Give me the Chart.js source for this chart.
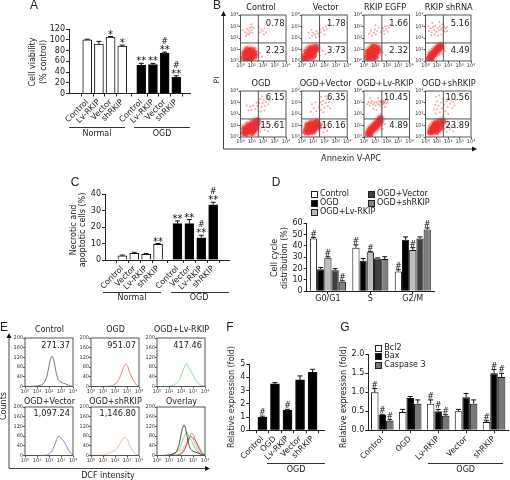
<!DOCTYPE html>
<html>
<head>
<meta charset="utf-8">
<script src="https://cdn.jsdelivr.net/npm/chart.js@4"></script>
<style>
  html, body { margin: 0; background: #fff; }
  #page { position: relative; width: 510px; height: 480px; overflow: hidden; font-family: "DejaVu Sans", sans-serif; color: #222; filter: blur(0.3px); }
  #page canvas { position: absolute; left: 0; top: 0; }
  .note { position: absolute; white-space: nowrap; line-height: 1; }
  .rule { position: absolute; height: 1px; background: #333; }
  .swatch { position: absolute; width: 5px; height: 5px; border: 1px solid #222; }
</style>
</head>
<body>
<div id="page">
  <svg width="510" height="480" style="position:absolute;left:0;top:0">
    <g stroke="#444" stroke-width="1" fill="none">
      <path d="M223.5 15V149H473"/>
      <path d="M9 337V468.5H206"/>
    </g>
    <g fill="#111">
      <path d="M223.5 11l-2.5 5h5z"/><path d="M477 149l-5 -2.5v5z"/>
      <path d="M9 333l-2.5 5h5z"/><path d="M210 468.5l-5 -2.5v5z"/>
    </g>
  </svg>
</div>
<script>
// panel A
const aLabels = ['Control', 'Lv-RKIP', 'Vector', 'shRKIP', 'Control', 'Lv-RKIP', 'Vector', 'shRKIP'];
const aValues = [100, 92, 105, 88, 53, 54, 75, 30];
const aErrors = [1, 5, 1, 2, 3, 2, 2, 3];
const aMarks = ['', '', '*', '*', '**', '**', ['**', '#'], ['**', '#']];

// panel C
const cLabels = ['Control', 'Vector', 'Lv-RKIP', 'shRKIP', 'Control', 'Vector', 'Lv-RKIP', 'shRKIP'];
const cValues = [2.5, 4, 3.5, 9.5, 22, 22, 13.5, 33.5];
const cErrors = [0.5, 0.7, 0.5, 0.5, 1.7, 2.5, 1.5, 1.5];
const cMarks = ['', '', '', '**', '**', '**', ['**', '#'], ['**', '#']];

// panel D
const dLabels = ['G0/G1', 'S', 'G2/M'];
const dSeries = ['Control', 'OGD', 'OGD+Lv-RKIP', 'OGD+Vector', 'OGD+shRKIP'];
const dColors = ['#ffffff', '#000000', '#bdbdbd', '#3f3f3f', '#808080'];
const dControl = [46.5, 38.5, 17.5];
const dOgd = [19.5, 27, 45.5];
const dLv = [29.5, 34.5, 36.5];
const dVector = [18.5, 29, 46.5];
const dSh = [8.5, 28.5, 54.5];
const dControlErr = [1, 2.5, 1.5];
const dOgdErr = [1.5, 2, 2.5];
const dLvErr = [1, 0.5, 2];
const dVectorErr = [1.5, 0.5, 1.5];
const dShErr = [0.8, 2, 1.5];
const dControlMarks = ['#', '#', '#'];
const dLvMarks = ['#', '#', '#'];
const dShMarks = ['#', '', '#'];

// panel F
const fLabels = ['Control', 'OGD', 'Lv-RKIP', 'Vector', 'shRKIP'];
const fValues = [1, 3.5, 1.5, 3.8, 4.4];
const fErrors = [0.07, 0.1, 0.08, 0.3, 0.2];
const fMarks = ['#', '', '#', '', ''];

// panel G
const gLabels = ['Control', 'OGD', 'Lv-RKIP', 'Vector', 'shRKIP'];
const gSeries = ['Bcl2', 'Bax', 'Caspase 3'];
const gColors = ['#ffffff', '#000000', '#777777'];
const gBcl2 = [1.0, 0.48, 0.7, 0.5, 0.22];
const gBax = [0.4, 0.85, 0.5, 0.87, 1.5];
const gCasp = [0.25, 0.7, 0.38, 0.7, 1.4];
const gBcl2Err = [0.1, 0.07, 0.1, 0.05, 0.03];
const gBaxErr = [0.02, 0.04, 0.05, 0.1, 0.1];
const gCaspErr = [0.03, 0.1, 0.03, 0.1, 0.1];
const gMarks = ['#', '', '#', '', '#'];

// panel B, events read as log10 decades [Annexin, PI]
const decadeLabels = ['10⁰', '10¹', '10²', '10³', '10⁴'];
const controlCore = [[.3,.3],[.45,.55],[.5,.2],[.55,.8],[.65,.4],[.7,.65],[.75,.15],[.8,.9],[.85,.5],[.95,.7],[1,.3],[1.05,.95],[1.1,.55],[1.2,.75],[.35,.7],[.6,1],[.9,.25],[1.25,.45]];
const controlSparse = [[.1,.1],[.15,.6],[.2,.9],[.3,1.1],[.25,.05],[.55,1.25],[.9,1.2],[1.3,1.1],[1.45,.8],[1.5,.5],[1.35,.2],[1.7,.7],[1.9,.4],[.4,2.5],[.55,2.8],[.6,2.4],[.7,2.65],[.8,2.9],[.85,2.5],[.95,2.7],[1.05,2.45],[1.15,2.85],[.5,2.2],[.75,2.3],[1,2.95],[1.7,2.5],[1.8,2.75],[1.95,2.6],[2.1,2.85],[2.25,2.5],[2.05,2.3],[1.6,2.95],[.2,2.7],[.95,3.2]];
const vectorCore = [[.2,.15],[.35,.2],[.3,.45],[.5,.35],[.55,.6],[.45,.8],[.7,.5],[.75,.75],[.65,1],[.9,.65],[.95,.9],[.85,1.15],[1.1,.8],[1.15,1.05],[1.05,.45],[1.3,1],[1.25,1.25],[.8,.3]];
const vectorSparse = [[.1,.5],[.15,.85],[.25,1],[.4,1.2],[.6,1.35],[1,1.4],[1.45,1.35],[1.5,.8],[1.55,1.15],[1.3,.5],[1.6,.45],[1.85,.9],[2.1,.6],[1.1,.15],[.7,2],[.9,2.2],[1,2.45],[1.15,2.3],[1.3,2.6],[1.45,2.4],[1.6,2.75],[1.7,2.5],[1.85,2.85],[1.95,2.65],[2.1,3],[2.2,2.75],[2.35,3.1],[.85,2.7],[1.25,2.05],[1.55,2.15],[2,2.3],[.6,2.45]];
const egfpCore = [[.25,.3],[.4,.55],[.45,.2],[.5,.85],[.6,.45],[.7,.7],[.65,1.05],[.8,.25],[.85,.55],[.9,.9],[.95,1.2],[1.05,.65],[1.1,.95],[1,.35],[1.25,.85],[1.2,1.15],[.35,.8],[.8,1.25]];
const egfpSparse = [[.1,.15],[.15,.55],[.2,.95],[.35,1.1],[.55,1.3],[1.05,1.4],[1.35,1.35],[1.45,.55],[1.5,1.05],[1.3,.3],[1.65,.75],[1.9,.5],[.7,2.2],[.85,2.45],[.95,2.75],[1.05,2.3],[1.15,2.6],[.6,2.65],[1.5,2.5],[1.65,2.85],[1.75,2.6],[1.85,3],[1.95,2.75],[2.05,3.05],[2.2,2.9],[2.3,3.15],[1.8,2.35],[1.3,2.9],[.45,2.4],[1,3.1],[2.1,2.55]];
const shrnaCore = [[.3,.2],[.4,.4],[.5,.25],[.55,.6],[.65,.45],[.7,.75],[.8,.6],[.85,.9],[.95,.8],[1,1.05],[1.1,.95],[1.15,1.2],[1.25,1.1],[1.3,1.35],[1.4,1.25],[.45,.1]];
const shrnaSparse = [[.15,.1],[.2,.45],[.25,.7],[.4,.85],[.55,1.05],[.75,1.2],[.95,1.4],[1.2,.55],[1.35,.8],[1.5,.6],[1.6,1.05],[1.55,1.5],[1.45,1.55],[1.7,.85],[.3,2.6],[.45,2.85],[.55,2.5],[.65,2.95],[.75,2.7],[.85,3.05],[.95,2.55],[1.05,2.85],[1.15,2.65],[1.25,3],[1.35,2.75],[1.45,2.9],[1.55,2.65],[1.65,3],[1.75,2.8],[1.85,2.95],[1.7,2.55],[.5,2.25],[.8,2.3],[1.1,2.2],[1.4,2.3],[.6,3.3],[1.2,3.4],[1.9,2.6],[.25,3],[1.5,3.2]];
const ogdCore = [[.3,.35],[.45,.6],[.5,.3],[.6,.85],[.7,.5],[.8,.75],[.75,1.05],[.9,.55],[.95,.95],[1.05,.75],[1.05,1.2],[1.15,.55],[1.2,1],[1.3,1.3],[1.35,.8],[1.45,1.1],[.35,.75],[1,.35],[1.5,1.45],[1.25,.7]];
const ogdSparse = [[.1,.3],[.15,.7],[.2,1],[.4,1.15],[.55,1.3],[.85,1.45],[1.1,1.55],[1.6,.7],[1.7,1.2],[1.75,.45],[1.9,.85],[2,1.1],[2.1,.6],[2.25,.9],[2.4,.5],[2.55,1],[1.6,.2],[.6,.1],[.7,2.3],[.85,2.6],[.95,2.35],[1.1,2.75],[.55,2.75],[1.3,2.45],[1.5,2.7],[1.65,2.95],[1.75,3.3],[1.85,2.6],[1.95,2.95],[2.05,3.2],[2.15,2.7],[2.25,3.05],[2.35,3.35],[2.45,2.85],[1.8,2.2],[2.1,2.3],[1.6,2.3],[2.55,3.15],[1.9,3.55],[1.4,3]];
const ogdVectorCore = [[.35,.45],[.45,.7],[.55,.4],[.6,.85],[.7,.6],[.75,1],[.85,.7],[.9,.45],[.95,1.1],[1,.85],[1.1,.6],[1.15,1],[1.2,1.25],[1.3,.8],[1.4,1.1],[.5,1.05],[.8,1.2],[1.5,.95],[1.35,1.3]];
const ogdVectorSparse = [[.15,.4],[.2,.75],[.3,.95],[.25,.2],[.5,1.25],[.9,1.4],[1.15,.3],[1.55,.55],[1.6,1.25],[1.7,.8],[1.8,1.1],[1.9,.4],[2,.75],[2.1,1],[2.25,.55],[2.4,.85],[.8,2.2],[1.05,2.5],[1.3,2.25],[1.5,2.6],[1.7,2.35],[1.8,2.8],[1.9,3.15],[2,2.55],[2.1,2.95],[2.2,3.3],[2.3,2.7],[2.4,3.05],[1.65,3],[1.9,2.15],[2.5,2.5],[.9,2.85],[1.2,3],[1.7,3.5],[2.1,3.55]];
const lvCore = [[.35,.3],[.45,.5],[.55,.35],[.6,.7],[.7,.55],[.75,.85],[.85,.7],[.9,1],[1,.85],[1.05,1.15],[1.15,1],[1.2,1.3],[1.3,1.15],[1.35,1.5],[.5,.15],[1.45,1.35],[1.45,1.65]];
const lvSparse = [[.15,.15],[.2,.4],[.3,.7],[.4,.9],[.6,1.05],[.8,1.25],[1,1.4],[1.2,.6],[1.35,.8],[1.5,1],[1.65,.7],[1.6,1.3],[1.8,1.1],[1.55,1.7],[1.5,2],[1.55,2.3],[1.6,2.5],[1.45,2.65],[.3,2.85],[.4,3.05],[.5,2.75],[.6,2.95],[.7,3.1],[.8,2.85],[.9,3],[1,2.75],[1.1,3.05],[1.2,2.9],[1.3,3.1],[1.35,2.8],[1.9,3.2],[2,2.95],[1.85,2.6],[2.1,3.1],[1.25,3.4],[.85,2.45],[1.1,2.35],[.55,3.4],[1.5,3],[1.6,3.1],[1.7,2.9],[1.65,3],[1.55,2.9],[1.75,3.05],[1.45,3.05],[1.8,2.95],[1.6,2.8],[1.7,3.15],[1.5,3.15],[1.85,3.05]];
const shCore = [[.4,.4],[.5,.65],[.6,.45],[.65,.85],[.75,.6],[.8,1],[.9,.75],[.95,.45],[1,1.1],[1.05,.85],[1.15,.6],[1.2,1.05],[1.25,1.35],[1.35,.85],[1.4,1.15],[1.55,1.4],[.85,1.2]];
const shSparse = [[.2,.3],[.25,.65],[.3,.95],[.45,1.1],[.6,1.25],[1,1.45],[1.1,.25],[1.5,.6],[1.6,1],[1.7,.75],[1.75,1.25],[1.85,.45],[1.95,.9],[2.05,1.15],[2.15,.65],[2.3,.95],[2.45,.5],[2.6,.85],[1.3,1.6],[.9,2.05],[1,2.4],[.85,2.8],[1,3.1],[.9,3.5],[1.15,2.7],[1.25,2.15],[1.35,3],[1.45,2.5],[1.55,3.3],[1.65,2.8],[1.75,2.25],[1.85,3.1],[1.95,2.6],[2.05,3.35],[2.15,2.9],[2.25,3.15],[2.35,2.5],[2.45,3],[2.55,2.75],[2.65,3.25],[1.2,3.6],[.75,2.4],[2,2]];
const bTitles = ['Control', 'Vector', 'RKIP EGFP', 'RKIP shRNA', 'OGD', 'OGD+Vector', 'OGD+Lv-RKIP', 'OGD+shRKIP'];
const bUpper = ['0.78', '1.78', '1.66', '5.16', '6.15', '6.35', '10.45', '10.56'];
const bLower = ['2.23', '3.73', '2.32', '4.49', '15.61', '16.16', '4.89', '23.89'];
const bCores = [controlCore, vectorCore, egfpCore, shrnaCore, ogdCore, ogdVectorCore, lvCore, shCore];
const bSparse = [controlSparse, vectorSparse, egfpSparse, shrnaSparse, ogdSparse, ogdVectorSparse, lvSparse, shSparse];

// panel E, histograms read as [log10 DCF, counts]
const eControl = [[0,0],[.5,0],[.8,1],[1.1,3],[1.4,7],[1.6,16],[1.8,38],[1.95,72],[2.1,108],[2.25,125],[2.35,118],[2.5,82],[2.65,46],[2.8,26],[3,18],[3.2,14],[3.5,8],[3.8,2],[4,0]];
const eOgd = [[0,0],[1,0],[1.5,1],[1.8,4],[2.1,14],[2.3,28],[2.5,50],[2.7,78],[2.9,92],[3.05,84],[3.2,62],[3.4,38],[3.6,20],[3.8,6],[4,2]];
const eLv = [[0,0],[.8,0],[1.2,3],[1.5,8],[1.8,24],[2,42],[2.2,70],[2.4,92],[2.5,95],[2.65,78],[2.8,66],[3,48],[3.2,28],[3.4,14],[3.7,5],[4,1]];
const eVector = [[0,0],[1.5,0],[1.9,3],[2.2,15],[2.4,35],[2.6,60],[2.8,80],[3,72],[3.2,62],[3.4,45],[3.6,25],[3.8,10],[4,2]];
const eSh = [[0,0],[1,2],[1.4,8],[1.8,18],[2.1,25],[2.3,40],[2.6,65],[2.8,75],[3,68],[3.2,45],[3.4,25],[3.6,10],[3.8,3],[4,0]];
const eTitles = ['Control', 'OGD', 'OGD+Lv-RKIP', 'OGD+Vector', 'OGD+shRKIP', 'Overlay'];
const eValues = ['271.37', '951.07', '417.46', '1,097.24', '1,146.80', ''];
const eCurves = [[eControl], [eOgd], [eLv], [eVector], [eSh], [eControl, eOgd, eLv, eVector, eSh]];
const eCurveColors = [['#555555'], ['#d9625a'], ['#62dc78'], ['#5a66c8'], ['#f0a878'], ['#222222', '#d9534f', '#55cf6c', '#6a6a8a', '#e8a070']];

const page = document.getElementById('page');
const FONT = '"DejaVu Sans", sans-serif';
const GROUP_GAP = 0.63;
const Y_BAND = 24;

Chart.defaults.animation = false;
Chart.defaults.responsive = false;
Chart.defaults.font.family = FONT;
Chart.defaults.color = '#222';

function note(text, x, y, opts = {}) {
  const el = document.createElement('div');
  el.className = 'note';
  el.textContent = text;
  el.style.left = x + 'px';
  el.style.top = y + 'px';
  el.style.fontSize = (opts.size || 8) + 'px';
  if (opts.font) el.style.fontFamily = opts.font;
  const tx = opts.right ? '-100%' : opts.left ? '0' : '-50%';
  el.style.transform = `translate(${tx},-50%)` + (opts.rot ? ` rotate(${opts.rot}deg)` : '');
  page.appendChild(el);
}

function rule(x1, x2, y) {
  const el = document.createElement('div');
  el.className = 'rule';
  el.style.left = x1 + 'px';
  el.style.top = y + 'px';
  el.style.width = (x2 - x1) + 'px';
  page.appendChild(el);
}

function swatch(color, x, y) {
  const el = document.createElement('div');
  el.className = 'swatch';
  el.style.background = color;
  el.style.left = x + 'px';
  el.style.top = y + 'px';
  page.appendChild(el);
}

// error whiskers and significance marks, taken from dataset.errs / dataset.marks
const whiskers = {
  id: 'whiskers',
  afterDatasetsDraw(chart) {
    const { ctx, scales: { y } } = chart;
    chart.data.datasets.forEach((ds, d) => {
      chart.getDatasetMeta(d).data.forEach((bar, i) => {
        const raw = typeof ds.data[i] === 'object' ? ds.data[i].y : ds.data[i];
        const top = y.getPixelForValue(raw + ds.errs[i]);
        ctx.save();
        ctx.strokeStyle = '#111';
        ctx.lineWidth = 1;
        ctx.beginPath();
        ctx.moveTo(bar.x, y.getPixelForValue(raw));
        ctx.lineTo(bar.x, top);
        ctx.moveTo(bar.x - 2.5, top);
        ctx.lineTo(bar.x + 2.5, top);
        ctx.stroke();
        let marks = ds.marks ? ds.marks[i] : '';
        if (marks) {
          marks = [].concat(marks);
          ctx.fillStyle = '#111';
          ctx.textAlign = 'center';
          ctx.textBaseline = 'middle';
          let py = top - 3;
          marks.forEach(m => {
            const hash = m === '#';
            ctx.font = hash ? `8px ${FONT}` : `10px ${FONT}`;
            ctx.fillText(m, bar.x, hash ? py : py + 1.5);
            py -= 7;
          });
        }
        ctx.restore();
      });
    });
  }
};

function framePlugin(quad) {
  return {
    id: 'frame',
    afterDatasetsDraw(chart) {
      const { ctx, chartArea: a, scales: { x, y } } = chart;
      ctx.save();
      ctx.strokeStyle = '#555';
      ctx.lineWidth = 1;
      ctx.strokeRect(a.left, a.top, a.right - a.left, a.bottom - a.top);
      if (quad) {
        ctx.beginPath();
        ctx.moveTo(x.getPixelForValue(quad), a.top);
        ctx.lineTo(x.getPixelForValue(quad), a.bottom);
        ctx.moveTo(a.left, y.getPixelForValue(quad));
        ctx.lineTo(a.right, y.getPixelForValue(quad));
        ctx.stroke();
      }
      ctx.restore();
    }
  };
}

function makeChart(box, config, xBand) {
  const canvas = document.createElement('canvas');
  canvas.width = 510;
  canvas.height = 480;
  page.appendChild(canvas);
  const o = config.options;
  o.plugins = { legend: { display: false }, tooltip: { enabled: false } };
  o.layout = { padding: { left: box.l - Y_BAND, top: box.t, right: 510 - box.r, bottom: 480 - box.b - xBand } };
  o.scales.x.afterFit = s => { s.height = xBand; };
  o.scales.y.afterFit = s => { s.width = Y_BAND; };
  return new Chart(canvas, config);
}

// bars with a wider gap between the two groups of a panel
function gapPos(i, gapAfter) {
  return gapAfter && i >= gapAfter ? i + GROUP_GAP : i;
}

function linearBars(box, labels, values, errs, marks, colors, gapAfter, xRange, yMax, yStep, barW) {
  const pos = labels.map((_, i) => gapPos(i, gapAfter));
  makeChart(box, {
    type: 'bar',
    data: {
      datasets: [{
        data: values.map((v, i) => ({ x: pos[i], y: v })),
        errs, marks,
        backgroundColor: colors,
        borderColor: '#111',
        borderWidth: 1,
        barThickness: barW
      }]
    },
    options: {
      scales: {
        x: {
          type: 'linear', min: xRange[0], max: xRange[1],
          afterBuildTicks: s => { s.ticks = pos.map(v => ({ value: v })); },
          grid: { drawOnChartArea: false, tickLength: 3, color: '#222' },
          border: { color: '#222' },
          ticks: { autoSkip: false, minRotation: 45, maxRotation: 45, padding: 1, color: '#222', font: { size: 8 }, callback: (v, i) => labels[i] }
        },
        y: {
          min: 0, max: yMax,
          grid: { drawOnChartArea: false, tickLength: 3, color: '#222' },
          border: { color: '#222' },
          ticks: { autoSkip: false, stepSize: yStep, padding: 1, color: '#222', font: { size: 8 } }
        }
      }
    },
    plugins: [whiskers]
  }, 48);
}

function groupedBars(box, labels, series, catPct, yMax, yStep, yFmt, rot) {
  makeChart(box, {
    type: 'bar',
    data: { labels, datasets: series.map(s => ({ ...s, borderColor: '#111', borderWidth: 1, categoryPercentage: catPct, barPercentage: 1 })) },
    options: {
      scales: {
        x: {
          grid: { offset: false, drawOnChartArea: false, tickLength: 3, color: '#222' },
          border: { color: '#222' },
          ticks: { autoSkip: false, minRotation: rot, maxRotation: rot, padding: rot ? 1 : 0, color: '#222', font: { size: 8 } }
        },
        y: {
          min: 0, max: yMax,
          grid: { drawOnChartArea: false, tickLength: 3, color: '#222' },
          border: { color: '#222' },
          ticks: { autoSkip: false, stepSize: yStep, padding: 1, color: '#222', font: { size: 8 }, callback: yFmt }
        }
      }
    },
    plugins: [whiskers]
  }, 48);
}

function decadeAxis(size) {
  return {
    type: 'linear', min: 0, max: 4,
    grid: { drawOnChartArea: false, tickLength: 2, color: '#555' },
    border: { display: false },
    ticks: { autoSkip: false, stepSize: 1, padding: 0, maxRotation: 0, color: '#333', font: { size }, callback: v => decadeLabels[v] }
  };
}

const asPoints = list => list.map(p => ({ x: p[0], y: p[1] }));

// A
linearBars({ l: 69, t: 29, r: 190, b: 93.5 }, aLabels, aValues, aErrors, aMarks,
  aValues.map((_, i) => i < 4 ? '#fff' : '#000'), 4, [-0.915, 8.155], 120, 20, 9);
note('Cell viability', 33, 62, { rot: -90 });
note('(% control)', 44, 62, { rot: -90 });
rule(69, 125, 127); rule(134, 190, 127);
note('Normal', 97, 134); note('OGD', 162, 134);

// C
linearBars({ l: 105, t: 194, r: 229, b: 260 }, cLabels, cValues, cErrors, cMarks,
  cValues.map((_, i) => i < 4 ? '#fff' : '#000'), 4, [-0.81, 8.31], 40, 10, 9);
note('Necrotic and', 74, 230, { rot: -90 });
note('apoptotic cells (%)', 83, 230, { rot: -90 });
rule(103, 161, 292); rule(171, 229, 292);
note('Normal', 132, 298); note('OGD', 199, 298);

// D
groupedBars({ l: 306.7, t: 223.3, r: 434, b: 291.3 }, dLabels, [
  { data: dControl, errs: dControlErr, marks: dControlMarks, backgroundColor: dColors[0] },
  { data: dOgd, errs: dOgdErr, backgroundColor: dColors[1] },
  { data: dLv, errs: dLvErr, marks: dLvMarks, backgroundColor: dColors[2] },
  { data: dVector, errs: dVectorErr, backgroundColor: dColors[3] },
  { data: dSh, errs: dShErr, marks: dShMarks, backgroundColor: dColors[4] }
], 0.85, 60, 10, undefined, 0);
note('Cell cycle', 275, 258, { rot: -90 });
note('distribution (%)', 285, 258, { rot: -90 });
swatch(dColors[0], 311, 191); note(dSeries[0], 320, 194, { left: true });
swatch(dColors[1], 311, 200); note(dSeries[1], 320, 203, { left: true });
swatch(dColors[2], 311, 209); note(dSeries[2], 320, 212, { left: true });
swatch(dColors[3], 368, 191); note(dSeries[3], 377, 194, { left: true });
swatch(dColors[4], 368, 200); note(dSeries[4], 377, 203, { left: true });

// F
linearBars({ l: 249.3, t: 364, r: 324.5, b: 430.3 }, fLabels, fValues, fErrors, fMarks,
  fValues.map(() => '#000'), 0, [-0.446, 4.35], 5, 1, 9);
note('Relative expression (fold)', 231.7, 397, { rot: -90 });
rule(267, 325, 463);
note('OGD', 296, 470);

// G
groupedBars({ l: 368.3, t: 354.3, r: 508, b: 430.3 }, gLabels, [
  { data: gBcl2, errs: gBcl2Err, marks: gMarks, backgroundColor: gColors[0] },
  { data: gBax, errs: gBaxErr, marks: gMarks, backgroundColor: gColors[1] },
  { data: gCasp, errs: gCaspErr, marks: gMarks, backgroundColor: gColors[2] }
], 0.81, 2, 0.5, v => v.toFixed(1), 45);
note('Relative expression (fold)', 344, 397, { rot: -90 });
swatch(gColors[0], 375, 345); note(gSeries[0], 384.3, 348, { left: true });
swatch(gColors[1], 375, 353); note(gSeries[1], 384.3, 356, { left: true });
swatch(gColors[2], 375, 361.5); note(gSeries[2], 384.3, 364.5, { left: true });
rule(428.3, 503, 463);
note('OGD', 465.7, 470);

// B
const bLefts = [240.5, 301.7, 364, 425.5];
const bTops = [15, 91];
const bCenters = [261, 325.7, 385, 448.7];
bTitles.forEach((title, i) => {
  const col = i % 4, row = i < 4 ? 0 : 1;
  const box = { l: bLefts[col], t: bTops[row], r: bLefts[col] + 45.5, b: bTops[row] + 46 };
  makeChart(box, {
    type: 'scatter',
    data: {
      datasets: [
        { data: asPoints(bSparse[i]), pointRadius: 1, pointBackgroundColor: 'rgba(235,90,90,0.55)', pointBorderWidth: 0 },
        { data: asPoints(bCores[i]), pointRadius: 5.5, pointBackgroundColor: 'rgba(240,60,60,0.1)', pointBorderWidth: 0 },
        { data: asPoints(bCores[i]), pointRadius: 3, pointBackgroundColor: 'rgba(240,24,24,0.7)', pointBorderWidth: 0 }
      ]
    },
    options: { scales: { x: decadeAxis(5), y: decadeAxis(5) } },
    plugins: [framePlugin(1.57)]
  }, 12);
  note(title, bCenters[col], row ? 83 : 7, { size: 8.2 });
  note(bUpper[i], box.r - 1.5, row ? 96.7 : 22.7, { size: 8.4, right: true });
  note(bLower[i], box.r - 1.5, row ? 125 : 50, { size: 8.4, right: true });
});
note('PI', 217, 80, { rot: -90, size: 7.5 });
note('Annexin V-APC', 351, 158, { size: 8.2 });

// E
const eLefts = [25, 91, 157];
const eTops = [338, 407];
eTitles.forEach((title, i) => {
  const col = i % 3, row = i < 3 ? 0 : 1;
  const box = { l: eLefts[col], t: eTops[row], r: eLefts[col] + 48, b: eTops[row] + 48.5 };
  makeChart(box, {
    type: 'line',
    data: {
      datasets: eCurves[i].map((c, k) => ({
        data: asPoints(c),
        borderColor: eCurveColors[i][k],
        borderWidth: 0.8,
        pointRadius: 0,
        tension: 0.25
      }))
    },
    options: {
      scales: {
        x: decadeAxis(5),
        y: {
          min: 0, max: 200,
          grid: { drawOnChartArea: false, tickLength: 2, color: '#555' },
          border: { display: false },
          ticks: { autoSkip: false, stepSize: 40, padding: 0, color: '#333', font: { size: 5 } }
        }
      }
    },
    plugins: [framePlugin(0)]
  }, 12);
  note(title, box.l + 24.5, row ? 401.7 : 329.7, { size: 8 });
  if (eValues[i]) note(eValues[i], box.r - 3, row ? 413 : 344.7, { size: 8.2, right: true });
});
note('Counts', 4, 406, { rot: -90 });
note('DCF intensity', 108, 475.5);

// panel letters
const LETTER = '"Liberation Sans", sans-serif';
note('A', 34, 5, { size: 12, font: LETTER });
note('B', 217, 5, { size: 12, font: LETTER });
note('C', 75, 182, { size: 12, font: LETTER });
note('D', 276, 182, { size: 12, font: LETTER });
note('E', 4, 327, { size: 12, font: LETTER });
note('F', 230, 327, { size: 12, font: LETTER });
note('G', 345, 327, { size: 12, font: LETTER });
</script>
</body>
</html>
